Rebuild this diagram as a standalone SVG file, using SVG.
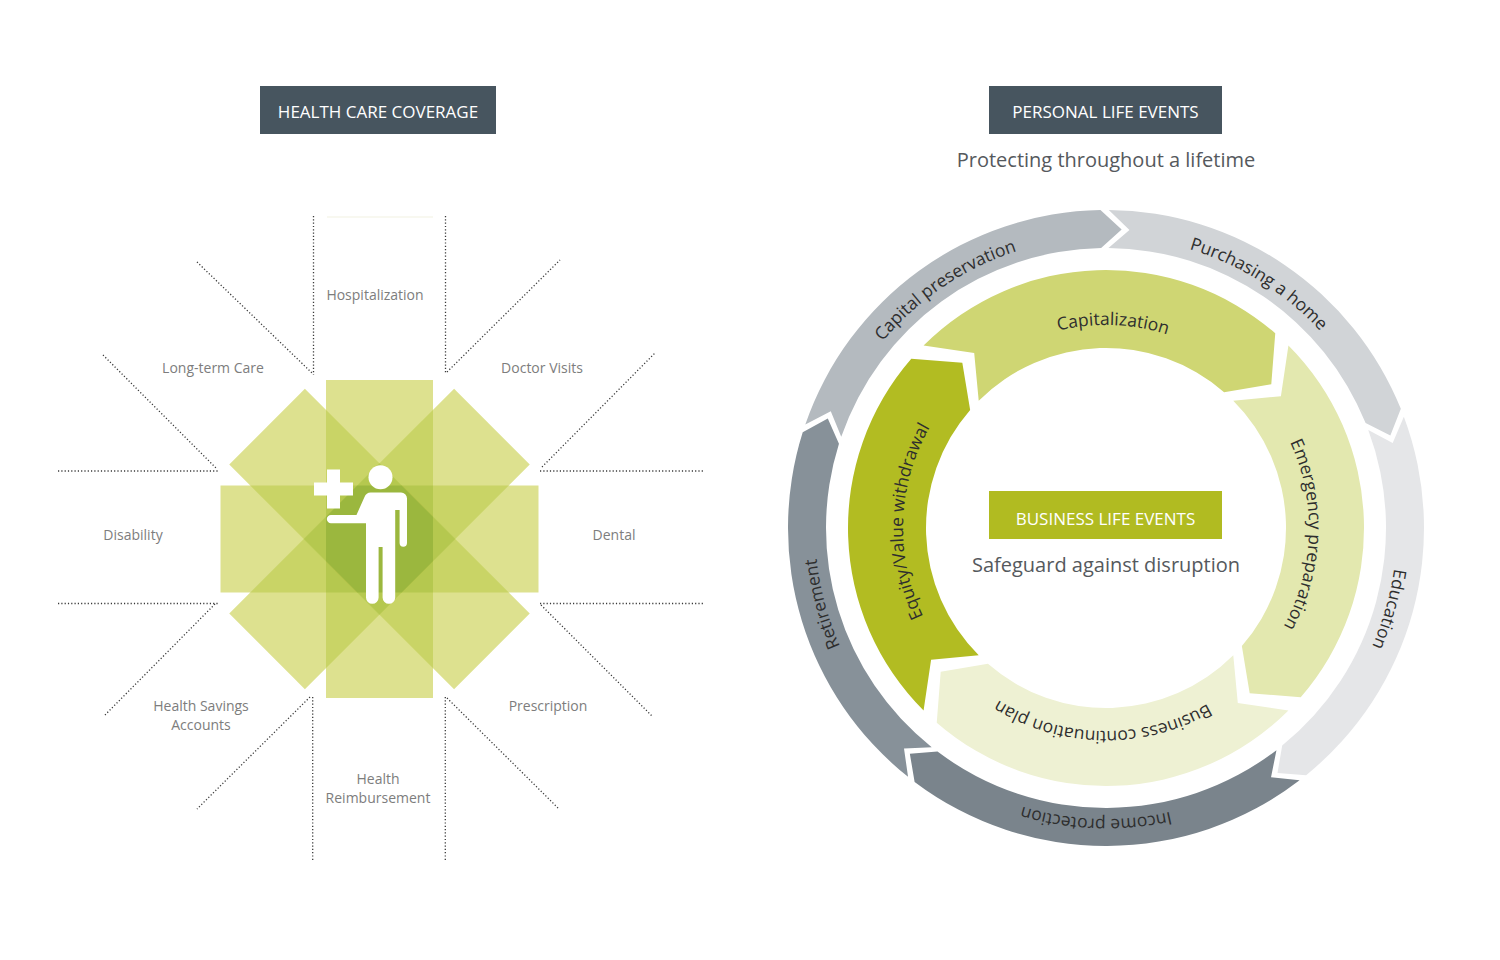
<svg xmlns="http://www.w3.org/2000/svg" xmlns:xlink="http://www.w3.org/1999/xlink" width="1500" height="960" viewBox="0 0 1500 960">
<style>
  text { font-family: 'Open Sans', 'Noto Sans', 'Liberation Sans', sans-serif; }
  .lbl { font-size: 14px; fill: #7d7d7d; text-anchor: middle; }
  .hdr { font-size: 17px; fill: #ffffff; text-anchor: middle; }
  .sub { font-size: 20px; fill: #55595d; text-anchor: middle; }
  .ring { font-size: 17.5px; fill: #2e2e2e; text-anchor: middle; }
  .dot { fill: none; stroke: #3a3a3a; stroke-width: 1.3; stroke-dasharray: 1.2 2.1; }
  .pth { fill: none; }
</style>
<defs>
  <rect id="bV" x="326" y="380" width="107" height="318"/>
  <rect id="bH" x="326" y="380" width="107" height="318" transform="rotate(90 379.5 539)"/>
  <rect id="bD1" x="326" y="380" width="107" height="318" transform="rotate(45 379.5 539)"/>
  <rect id="bD2" x="326" y="380" width="107" height="318" transform="rotate(-45 379.5 539)"/>
  <clipPath id="cH"><use href="#bH"/></clipPath>
  <clipPath id="cD1"><use href="#bD1"/></clipPath>
  <clipPath id="cD2"><use href="#bD2"/></clipPath>
  <path id="tp-cap" class="pth" d="M830.85,622.74 A291,291 0 0 1 1296.91,308.38"/>
  <path id="tp-pur" class="pth" d="M907.54,315.18 A291,291 0 0 1 1384.28,613.08"/>
  <path id="tp-edu" class="pth" d="M1255.88,278.56 A291,291 0 0 1 1100.92,818.96"/>
  <path id="tp-inc" class="pth" d="M1384.28,613.08 A291,291 0 0 1 822.46,593.46"/>
  <path id="tp-ret" class="pth" d="M1106,819 A291,291 0 0 1 960.5,275.99"/>
  <path id="tp-capz" class="pth" d="M911.87,468.65 A203,203 0 0 1 1303.80,482.34"/>
  <path id="tp-emr" class="pth" d="M1165.35,333.87 A203,203 0 0 1 1151.66,725.80"/>
  <path id="tp-bus" class="pth" d="M1301.14,583.95 A203,203 0 0 1 909.03,577.11"/>
  <path id="tp-eq" class="pth" d="M1046.65,722.13 A203,203 0 0 1 1060.34,330.20"/>
</defs>

<rect x="0" y="0" width="1500" height="960" fill="#ffffff"/>

<!-- LEFT: HEALTH CARE COVERAGE -->
<g id="health-title">
  <rect x="260" y="86" width="236" height="48" fill="#47555f"/>
  <text class="hdr" x="378" y="118">HEALTH CARE COVERAGE</text>
</g>

<g id="connectors">
  <line x1="327" y1="217" x2="433" y2="217" stroke="#f1f2e2" stroke-width="1.2"/>
  <line class="dot" x1="313.5" y1="216" x2="313.5" y2="375"/>
  <line class="dot" x1="445.5" y1="216" x2="445.5" y2="373"/>
  <line class="dot" x1="197" y1="262" x2="312" y2="373"/>
  <line class="dot" x1="103" y1="355" x2="217" y2="469"/>
  <line class="dot" x1="58" y1="471" x2="218" y2="471"/>
  <line class="dot" x1="58" y1="603.5" x2="218" y2="603.5"/>
  <line class="dot" x1="215" y1="604" x2="104" y2="716"/>
  <line class="dot" x1="310" y1="697" x2="197" y2="809"/>
  <line class="dot" x1="312.7" y1="697" x2="312.7" y2="862"/>
  <line class="dot" x1="445.3" y1="697" x2="445.3" y2="862"/>
  <line class="dot" x1="447" y1="698" x2="558" y2="808"/>
  <line class="dot" x1="541" y1="605" x2="652" y2="716"/>
  <line class="dot" x1="540" y1="471" x2="703" y2="471"/>
  <line class="dot" x1="540" y1="603.5" x2="703" y2="603.5"/>
  <line class="dot" x1="447" y1="372" x2="560" y2="260"/>
  <line class="dot" x1="542" y1="467" x2="655" y2="353"/>
</g>

<g id="coverage-star">
  <g fill="#dde18f">
    <use href="#bV"/><use href="#bH"/><use href="#bD1"/><use href="#bD2"/>
  </g>
  <g fill="#c9d466">
    <use href="#bV" clip-path="url(#cH)"/>
    <use href="#bV" clip-path="url(#cD1)"/>
    <use href="#bV" clip-path="url(#cD2)"/>
    <use href="#bH" clip-path="url(#cD1)"/>
    <use href="#bH" clip-path="url(#cD2)"/>
    <use href="#bD1" clip-path="url(#cD2)"/>
  </g>
  <g fill="#b5c84f">
    <g clip-path="url(#cH)">
      <use href="#bV" clip-path="url(#cD1)"/>
      <use href="#bV" clip-path="url(#cD2)"/>
    </g>
    <g clip-path="url(#cD1)">
      <use href="#bV" clip-path="url(#cD2)"/>
      <use href="#bH" clip-path="url(#cD2)"/>
    </g>
  </g>
  <g fill="#9bb73e" clip-path="url(#cH)">
    <g clip-path="url(#cD1)">
      <use href="#bV" clip-path="url(#cD2)"/>
    </g>
  </g>
</g>

<g id="person-icon" fill="#ffffff">
  <circle cx="380.5" cy="477.3" r="12"/>
  <path d="M372,492.5 H401 A6,6 0 0 1 407,498.5 V543 A3.7,3.7 0 0 1 399.6,543 V510 H395.2 V597.5 A6.3,6.3 0 0 1 382.6,597.5 V547 H378.6 V597.5 A6.3,6.3 0 0 1 366,597.5 V523.3 H331 A4.2,4.2 0 0 1 331,514.9 H356.5 L364.5,497 A7,7 0 0 1 372,492.5 Z"/>
  <path d="M327,469.5 H340 V482.5 H353 V495.5 H340 V508.5 H327 V495.5 H314 V482.5 H327 Z"/>
</g>

<g id="lbl-hospitalization"><text class="lbl" x="375" y="300">Hospitalization</text></g>
<g id="lbl-longterm"><text class="lbl" x="213" y="373">Long-term Care</text></g>
<g id="lbl-doctor"><text class="lbl" x="542" y="373">Doctor Visits</text></g>
<g id="lbl-disability"><text class="lbl" x="133" y="540">Disability</text></g>
<g id="lbl-dental"><text class="lbl" x="614" y="540">Dental</text></g>
<g id="lbl-hsa"><text class="lbl" x="201" y="710.5">Health Savings</text><text class="lbl" x="201" y="729.5">Accounts</text></g>
<g id="lbl-prescription"><text class="lbl" x="548" y="710.5">Prescription</text></g>
<g id="lbl-reimbursement"><text class="lbl" x="378" y="784">Health</text><text class="lbl" x="378" y="803">Reimbursement</text></g>

<!-- RIGHT: PERSONAL LIFE EVENTS -->
<g id="personal-title">
  <rect x="989" y="86" width="233" height="48" fill="#47555f"/>
  <text class="hdr" x="1105.5" y="118">PERSONAL LIFE EVENTS</text>
  <text class="sub" x="1106" y="167">Protecting throughout a lifetime</text>
</g>

<g id="ring-capital-preservation">
  <path fill="#b4babf" d="M805.32,424.47 A318,318 0 0 1 1100.45,210.05 L1121.65,229.41 L1101.11,248.04 A280,280 0 0 0 841.25,436.84 L830.77,411.17 Z"/>
  <text class="ring"><textPath href="#tp-cap" startOffset="50%">Capital preservation</textPath></text>
</g>
<g id="ring-purchasing-home">
  <path fill="#d1d4d7" d="M1108.78,210.01 A318,318 0 0 1 1400.84,408.87 L1390.37,435.60 L1365.61,423.11 A280,280 0 0 0 1108.44,248.01 L1129.46,229.92 Z"/>
  <text class="ring"><textPath href="#tp-pur" startOffset="50%">Purchasing a home</textPath></text>
</g>
<g id="ring-education">
  <path fill="#e5e6e8" d="M1403.86,416.63 A318,318 0 0 1 1306.12,775.13 L1277.50,772.93 L1282.21,745.60 A280,280 0 0 0 1368.27,429.94 L1392.69,443.08 Z"/>
  <text class="ring"><textPath href="#tp-edu" startOffset="50%">Education</textPath></text>
</g>
<g id="ring-income-protection">
  <path fill="#7a848c" d="M1299.59,780.29 A318,318 0 0 1 914.62,781.97 L909.84,753.66 L937.49,751.62 A280,280 0 0 0 1276.45,750.14 L1271.03,777.33 Z"/>
  <text class="ring"><textPath href="#tp-inc" startOffset="50%">Income protection</textPath></text>
</g>
<g id="ring-retirement">
  <path fill="#879199" d="M908.04,776.87 A318,318 0 0 1 802.72,432.37 L827.80,418.42 L838.96,443.80 A280,280 0 0 0 931.70,747.13 L904.00,748.45 Z"/>
  <text class="ring"><textPath href="#tp-ret" startOffset="50%">Retirement</textPath></text>
</g>

<g id="inner-capitalization">
  <path fill="#cfd673" d="M923.57,345.57 A258,258 0 0 1 1275.26,333.28 L1271.28,384.32 L1224.09,392.15 A180,180 0 0 0 978.72,400.72 L974.20,353.10 Z"/>
  <text class="ring"><textPath href="#tp-capz" startOffset="50%">Capitalization</textPath></text>
</g>
<g id="inner-emergency">
  <path fill="#e3e8af" d="M1288.43,345.57 A258,258 0 0 1 1300.72,697.26 L1249.68,693.28 L1241.85,646.09 A180,180 0 0 0 1233.28,400.72 L1280.90,396.20 Z"/>
  <text class="ring"><textPath href="#tp-emr" startOffset="50%">Emergency preparation</textPath></text>
</g>
<g id="inner-business">
  <path fill="#eef1d3" d="M1288.43,710.43 A258,258 0 0 1 936.74,722.72 L940.72,671.68 L987.91,663.85 A180,180 0 0 0 1233.28,655.28 L1237.80,702.90 Z"/>
  <text class="ring"><textPath href="#tp-bus" startOffset="50%">Business continuation plan</textPath></text>
</g>
<g id="inner-equity">
  <path fill="#b2bc22" d="M923.57,710.43 A258,258 0 0 1 911.28,358.74 L962.32,362.72 L970.15,409.91 A180,180 0 0 0 978.72,655.28 L931.10,659.80 Z"/>
  <text class="ring"><textPath href="#tp-eq" startOffset="50%">Equity/Value withdrawal</textPath></text>
</g>

<g id="business-title">
  <rect x="989" y="491" width="233" height="48" fill="#b1bb21"/>
  <text class="hdr" x="1105.5" y="524.5">BUSINESS LIFE EVENTS</text>
  <text class="sub" x="1106" y="572">Safeguard against disruption</text>
</g>
</svg>
